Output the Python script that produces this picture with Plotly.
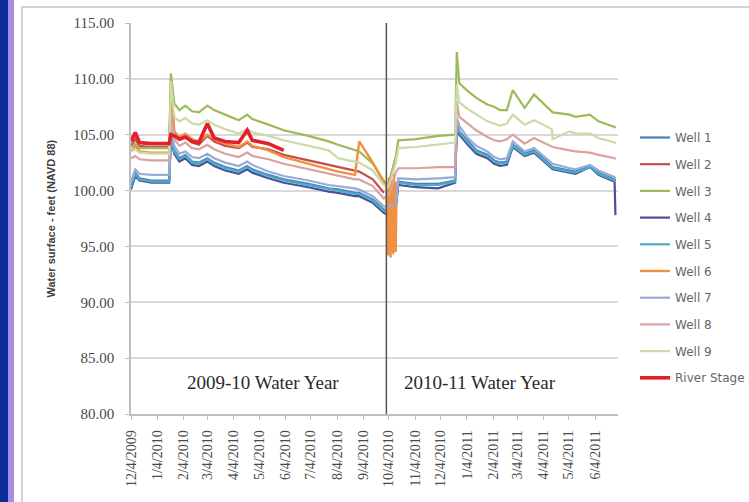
import plotly.graph_objects as go

# Observation dates shared by the well records (knots of each hydrograph)
dates = [
    "2009-12-04", "2009-12-09", "2009-12-14", "2009-12-28", "2010-01-18",
    "2010-01-20", "2010-01-24", "2010-01-30", "2010-02-06", "2010-02-14",
    "2010-02-22", "2010-03-04", "2010-03-12", "2010-03-25", "2010-04-10",
    "2010-04-20", "2010-04-26", "2010-05-15", "2010-06-02", "2010-07-01",
    "2010-07-25", "2010-08-05", "2010-08-25", "2010-08-30", "2010-09-15",
    "2010-09-28", "2010-10-03", "2010-10-06", "2010-10-12", "2010-10-15",
    "2010-11-05", "2010-12-01", "2010-12-21", "2010-12-23", "2010-12-26",
    "2011-01-05", "2011-01-15", "2011-01-28", "2011-02-05", "2011-02-12",
    "2011-02-20", "2011-02-27", "2011-03-13", "2011-03-24", "2011-04-14",
    "2011-04-15", "2011-05-05", "2011-05-12", "2011-05-29", "2011-06-08",
    "2011-06-27", "2011-06-28",
]

well1 = [100.4, 101.6, 101.1, 100.9, 100.9, 105.0, 103.6, 102.9, 103.2, 102.6,
         102.5, 102.9, 102.5, 102.1, 101.8, 102.2, 101.9, 101.4, 101.0, 100.6,
         100.2, 100.1, 99.8, 99.8, 99.2, 98.3, 98.2, 98.3, 98.6, 100.8,
         100.6, 100.6, 100.9, 106.0, 105.3, 104.4, 103.6, 103.2, 102.7, 102.5,
         102.6, 104.1, 103.3, 103.6, 102.2, 102.1, 101.8, 101.7, 102.2, 101.6,
         101.0, 100.9]

well2 = [104.0, 104.6, 104.0, 103.9, 103.9, 108.5, 105.0, 104.6, 104.8, 104.3,
         104.1, 104.9, 104.4, 104.0, 103.8, 104.3, 103.9, 103.7, 103.2, 102.7,
         102.3, 102.1, 101.8, 101.7, 101.0, 99.8, None, None, None, None,
         None, None, None, None, None, None, None, None, None, None,
         None, None, None, None, None, None, None, None, None, None,
         None, None]

well3 = [103.9, 104.2, 103.8, 103.8, 103.8, 110.5, 107.8, 107.2, 107.6, 107.1,
         107.0, 107.6, 107.2, 106.8, 106.3, 106.8, 106.4, 105.9, 105.4, 104.9,
         104.4, 104.1, 103.6, 103.5, 102.4, 100.9, 100.5, 101.3, 103.0, 104.5,
         104.6, 104.9, 105.0, 112.4, 109.6, 108.9, 108.3, 107.7, 107.5, 107.2,
         107.2, 109.0, 107.4, 108.6, 107.1, 107.0, 106.8, 106.6, 106.8, 106.2,
         105.7, 105.6]

well4 = [100.1, 101.3, 100.9, 100.7, 100.7, 104.7, 103.3, 102.6, 102.9, 102.3,
         102.2, 102.6, 102.2, 101.8, 101.5, 101.9, 101.6, 101.1, 100.7, 100.3,
         99.9, 99.8, 99.5, 99.5, 98.9, 98.0, 97.8, 98.0, 98.4, 100.5,
         100.3, 100.2, 100.7, 105.7, 105.0, 104.1, 103.3, 102.9, 102.4, 102.2,
         102.3, 103.9, 103.1, 103.4, 102.0, 101.9, 101.6, 101.5, 102.1, 101.4,
         100.8, 97.8]

well5 = [100.3, 101.5, 101.0, 100.8, 100.8, 104.9, 103.5, 102.8, 103.1, 102.5,
         102.4, 102.8, 102.4, 102.0, 101.7, 102.1, 101.8, 101.3, 100.9, 100.5,
         100.1, 100.0, 99.7, 99.7, 99.1, 98.2, 98.1, 98.2, 98.5, 100.7,
         100.5, 100.5, 100.8, 105.9, 105.2, 104.3, 103.5, 103.1, 102.6, 102.4,
         102.5, 104.0, 103.2, 103.5, 102.1, 102.0, 101.7, 101.6, 102.1, 101.5,
         100.9, 100.8]

well7 = [100.8, 101.9, 101.5, 101.4, 101.4, 105.5, 104.0, 103.3, 103.5, 103.0,
         102.9, 103.3, 102.9, 102.5, 102.2, 102.6, 102.3, 101.7, 101.3, 100.9,
         100.5, 100.4, 100.2, 100.1, 99.5, 98.6, 98.5, 98.6, 98.8, 101.1,
         101.0, 101.1, 101.2, 106.5, 105.8, 104.7, 104.0, 103.5, 103.0, 102.8,
         102.9, 104.4, 103.5, 103.8, 102.4, 102.4, 102.0, 101.9, 102.3, 101.8,
         101.2, 101.1]

well8 = [102.9, 103.1, 102.8, 102.7, 102.7, 107.0, 104.6, 104.0, 104.3, 103.8,
         103.7, 104.1, 103.7, 103.3, 103.0, 103.4, 103.1, 102.8, 102.4, 101.9,
         101.5, 101.3, 101.0, 101.0, 100.4, 99.3, 99.6, 100.0, 101.6, 102.0,
         102.0, 102.1, 102.1, 108.0, 106.6, 106.0, 105.4, 104.8, 104.5, 104.4,
         104.6, 105.0, 104.2, 104.7, 103.9, 103.9, 103.6, 103.5, 103.4, 103.2,
         102.9, 102.8]

well9 = [103.5, 103.7, 103.4, 103.3, 103.3, 109.8, 106.6, 106.2, 106.5, 106.0,
         105.9, 106.3, 105.9, 105.5, 105.1, 105.5, 105.2, 104.9, 104.5, 104.0,
         103.6, 102.9, 102.6, 102.5, 101.8, 100.5, 100.3, 100.9, 102.5, 103.8,
         103.9, 104.1, 104.3, 109.5, 107.9, 107.3, 106.8, 106.2, 106.0, 105.8,
         106.0, 106.8, 105.9, 106.3, 105.5, 104.6, 105.3, 105.1, 105.1, 104.7,
         104.3, 104.2]

river_stage = [104.4, 105.2, 104.3, 104.2, 104.2, 105.0, 104.9, 104.6, 104.8, 104.4,
               104.3, 106.0, 104.7, 104.4, 104.3, 105.4, 104.5, 104.2, 103.6, None,
               None, None, None, None, None, None, None, None, None, None,
               None, None, None, None, None, None, None, None, None, None,
               None, None, None, None, None, None, None, None, None, None,
               None, None]

# Well 6 has its own record, with the daily swings of early October 2010
well6_dates = dates[:26] + [
    "2010-10-01", "2010-10-03", "2010-10-04", "2010-10-06", "2010-10-07",
    "2010-10-09", "2010-10-10", "2010-10-12", "2010-10-13",
]
well6 = [103.5, 104.0, 103.5, 103.4, 103.4, 109.6, 105.3, 104.8, 105.1, 104.6,
         104.4, 105.0, 104.6, 104.2, 103.9, 104.4, 104.0, 103.6, 103.0, 102.4,
         101.9, 101.7, 101.4, 104.4, 102.5, 100.7,
         100.3, 94.2, 101.2, 94.0, 101.0, 94.3, 101.5, 94.5, 100.8]

series_names = ["Well 1", "Well 2", "Well 3", "Well 4", "Well 5",
                "Well 6", "Well 7", "Well 8", "Well 9", "River Stage"]
series_x = [dates, dates, dates, dates, dates,
            well6_dates, dates, dates, dates, dates]
series_y = [well1, well2, well3, well4, well5,
            well6, well7, well8, well9, river_stage]
series_colors = ["#4A7EBB", "#C0504D", "#9BBB59", "#4B4F99", "#4BACC6",
                 "#F09040", "#9AAAD8", "#DDA0A0", "#CADBA8", "#E3202A"]
series_widths = [2.2, 2.2, 2.2, 2.2, 2.2, 2.4, 2.2, 2.2, 2.2, 3.6]

# Axis ticks: monthly on the 4th
tick_dates = [
    "2009-12-04", "2010-01-04", "2010-02-04", "2010-03-04", "2010-04-04",
    "2010-05-04", "2010-06-04", "2010-07-04", "2010-08-04", "2010-09-04",
    "2010-10-04", "2010-11-04", "2010-12-04", "2011-01-04", "2011-02-04",
    "2011-03-04", "2011-04-04", "2011-05-04", "2011-06-04",
]
tick_labels = [
    "12/4/2009", "1/4/2010", "2/4/2010", "3/4/2010", "4/4/2010",
    "5/4/2010", "6/4/2010", "7/4/2010", "8/4/2010", "9/4/2010",
    "10/4/2010", "11/4/2010", "12/4/2010", "1/4/2011", "2/4/2011",
    "3/4/2011", "4/4/2011", "5/4/2011", "6/4/2011",
]
y_ticks = [80, 85, 90, 95, 100, 105, 110, 115]

water_year_start = "2010-10-01"
period_labels = ["2009-10 Water Year", "2010-11 Water Year"]
period_label_x = ["2010-05-09", "2011-01-19"]
period_label_y = 82.8

W, H = 749, 502
ML, MR, MT, MB = 131, 131, 23, 88
PW, PH = W - ML - MR, H - MT - MB


def px(x):
    return (x - ML) / PW


def py(y):
    return (H - MB - y) / PH


fig = go.Figure()
for i, name in enumerate(series_names):
    fig.add_trace(go.Scatter(
        x=series_x[i], y=series_y[i], name=name, mode="lines",
        line=dict(color=series_colors[i], width=series_widths[i]),
        legendgroup=name, connectgaps=False,
    ))

serif = "Liberation Serif, Times New Roman, serif"

fig.update_layout(
    width=W, height=H,
    margin=dict(l=ML, r=MR, t=MT, b=MB, autoexpand=False),
    paper_bgcolor="white", plot_bgcolor="white",
    showlegend=True,
    legend=dict(
        xref="container", yref="container",
        x=635 / W, y=1 - 123 / H, xanchor="left", yanchor="top",
        maxheight=420,
        font=dict(family="DejaVu Sans, Arial, sans-serif", size=12, color="#666666"),
        tracegroupgap=7.7, bgcolor="rgba(0,0,0,0)", borderwidth=0,
    ),
    xaxis=dict(
        type="date", range=["2009-12-04", "2011-07-01"],
        tickmode="array", tickvals=tick_dates, ticktext=tick_labels,
        tickangle=-90, tickfont=dict(family=serif, size=14, color="#4A4A4A"),
        showgrid=False, zeroline=False,
        showline=True, linecolor="#BFBFBF", linewidth=1.5,
        ticks="outside", ticklen=4, tickcolor="#BFBFBF",
        ticklabelstandoff=5,
    ),
    yaxis=dict(
        range=[80, 115], tickmode="array", tickvals=y_ticks,
        tickformat=".2f", tickfont=dict(family=serif, size=15, color="#4A4A4A"),
        showgrid=True, gridcolor="#D9D9D9", gridwidth=1.5, zeroline=False,
        showline=True, linecolor="#BFBFBF", linewidth=1.5,
        ticks="outside", ticklen=4, tickcolor="#BFBFBF",
        ticklabelstandoff=8,
    ),
)

# Water-year divider
fig.add_shape(type="line", xref="x", yref="paper",
              x0=water_year_start, x1=water_year_start, y0=0, y1=1,
              line=dict(color="#555555", width=1.5))

for txt, xd in zip(period_labels, period_label_x):
    fig.add_annotation(x=xd, y=period_label_y, xref="x", yref="y", text=txt,
                       showarrow=False, font=dict(family=serif, size=19, color="#2A2A2A"))

# Y-axis title
fig.add_annotation(x=px(50), y=0.5, xref="paper", yref="paper",
                   xanchor="center", yanchor="middle",
                   text="<b>Water surface - feet (NAVD 88)</b>", textangle=-90,
                   showarrow=False,
                   font=dict(family="Liberation Sans, Arial, sans-serif", size=11, color="#404040"))

# Chart frame and slide edge
fig.add_shape(type="rect", xref="paper", yref="paper", layer="below",
              x0=px(22), x1=px(760), y0=py(510), y1=py(7),
              line=dict(color="#C4C4C4", width=1.5), fillcolor="rgba(0,0,0,0)")
fig.add_shape(type="rect", xref="paper", yref="paper",
              x0=px(0), x1=px(8), y0=py(H), y1=py(0),
              line=dict(width=0), fillcolor="#0B2D9C")
fig.add_shape(type="rect", xref="paper", yref="paper",
              x0=px(8), x1=px(14), y0=py(H), y1=py(0),
              line=dict(width=0), fillcolor="#A68CE6")

fig.write_html("out.html")
